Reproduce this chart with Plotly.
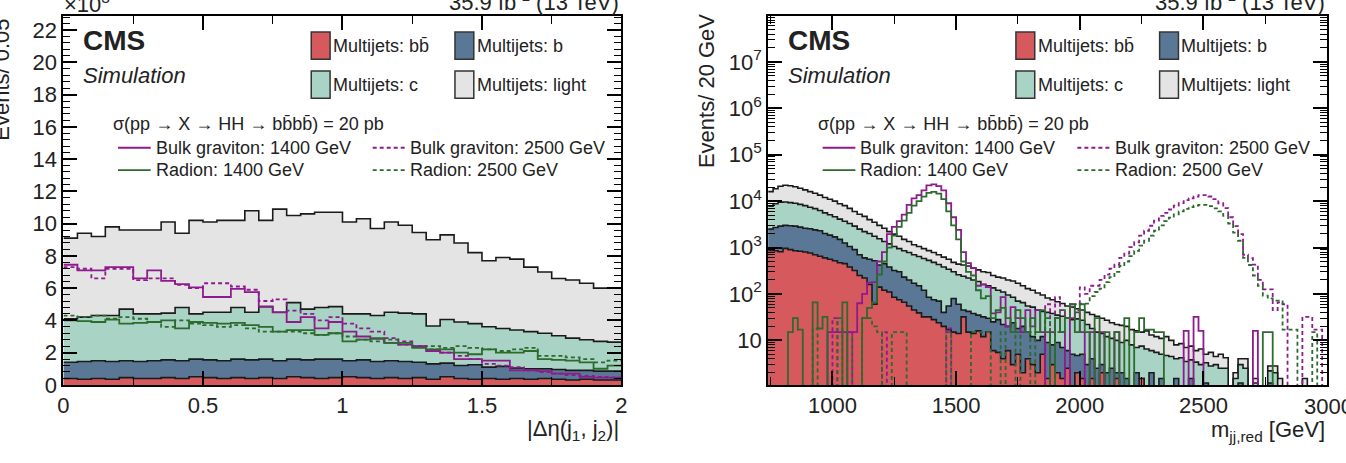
import numpy as np
import plotly.graph_objects as go

W, H = 1346, 463
FONT = "Liberation Sans, Arial, sans-serif"

# ---------------- left panel: |Delta eta(j1, j2)|, bins of 0.05, values in 10^3 events
deta_lo, deta_hi, deta_width = 0.0, 2.0, 0.05
# stack tops (cumulative: bb, bb+b, bb+b+c, total)
deta_stack_bb = [0.4, 0.35, 0.4, 0.35, 0.45, 0.4, 0.4, 0.45, 0.4, 0.5, 0.45, 0.4, 0.45, 0.4, 0.45, 0.4, 0.5, 0.45, 0.4, 0.45,
                 0.5, 0.45, 0.4, 0.45, 0.4, 0.45, 0.35, 0.5, 0.4, 0.35, 0.4, 0.35, 0.4, 0.35, 0.4, 0.35, 0.3, 0.35, 0.3, 0.3]
deta_stack_b = [1.4, 1.45, 1.5, 1.45, 1.5, 1.45, 1.5, 1.55, 1.5, 1.6, 1.55, 1.5, 1.6, 1.55, 1.6, 1.5, 1.6, 1.55, 1.6, 1.6,
                1.5, 1.55, 1.45, 1.5, 1.45, 1.4, 1.3, 1.35, 1.2, 1.25, 1.1, 1.15, 1.05, 1.0, 1.0, 0.95, 0.9, 0.9, 0.85, 0.85]
deta_stack_c = [4.1, 4.2, 4.3, 4.3, 4.7, 4.4, 4.4, 4.45, 4.8, 4.4, 4.5, 4.5, 4.8, 4.5, 4.85, 4.5, 5.1, 4.7, 4.8, 4.85,
                4.4, 4.4, 4.3, 4.5, 4.45, 4.4, 3.65, 4.05, 3.9, 3.8, 3.6, 3.5, 3.4, 3.3, 3.2, 3.05, 2.9, 2.8, 2.7, 2.65]
deta_stack_light = [9.1, 9.4, 9.2, 9.8, 9.6, 9.6, 9.6, 10.1, 9.4, 10.2, 10.1, 10.2, 10.2, 10.8, 10.2, 10.9, 10.5, 10.6, 10.7, 10.7,
                    10.1, 10.3, 9.7, 10.1, 9.9, 9.45, 9.0, 9.3, 8.8, 8.2, 7.7, 7.9, 7.8, 7.3, 7.0, 6.6, 6.5, 6.3, 6.0, 6.0]
deta_bulk1400 = [7.45, 7.1, 7.1, 7.3, 7.3, 6.6, 7.1, 6.45, 6.25, 6.05, 5.45, 5.45, 5.95, 5.75, 4.85, 4.5, 3.9, 4.2, 3.5, 3.9,
                 3.3, 3.0, 2.85, 2.6, 2.5, 2.4, 2.1, 2.0, 1.6, 1.6, 1.5, 1.5, 0.9, 0.9, 0.85, 0.7, 0.7, 0.5, 0.45, 0.45]
deta_bulk2500 = [7.3, 7.2, 6.6, 7.2, 7.2, 6.5, 6.6, 6.6, 6.2, 6.0, 6.3, 6.3, 6.1, 5.9, 5.2, 5.3, 4.6, 4.4, 4.0, 4.2,
                 3.8, 3.5, 3.3, 2.9, 2.7, 2.4, 2.2, 2.0, 1.8, 1.6, 1.3, 1.2, 1.1, 0.9, 0.8, 0.7, 0.6, 0.55, 0.5, 0.45]
deta_rad1400 = [4.0, 3.95, 3.9, 4.05, 3.8, 3.85, 3.9, 4.0, 3.5, 3.9, 3.85, 3.8, 3.85, 3.7, 3.6, 3.3, 3.4, 3.4, 3.1, 3.2,
                2.7, 2.8, 2.9, 2.6, 2.6, 2.3, 2.2, 2.2, 2.0, 1.9, 2.2, 2.0, 2.0, 2.1, 1.6, 1.55, 1.5, 1.4, 1.0, 1.2]
deta_rad2500 = [4.3, 4.2, 4.3, 4.1, 4.2, 4.1, 3.9, 3.6, 4.0, 3.8, 3.7, 3.6, 3.7, 3.5, 3.3, 3.3, 3.3, 3.2, 3.1, 3.2,
                3.0, 2.8, 2.7, 2.8, 2.5, 2.4, 2.4, 2.3, 2.4, 2.3, 2.2, 2.1, 2.2, 2.3, 1.8, 1.8, 1.7, 1.6, 1.4, 1.5]

# ---------------- right panel: m_jj,red, 20 GeV bins from 740 to 3000 GeV
mjj_lo, mjj_hi, mjj_width = 740, 3000, 20
mjj_stack_bb = [870, 850, 810, 960, 900, 850, 830, 800, 760, 700,
                650, 600, 560, 520, 470, 450, 380, 320, 250, 220,
                160, 60, 140, 120, 110, 85, 75, 66, 55, 45,
                39, 32, 32, 28, 24, 20, 17, 15, 14, 32,
                15, 14, 16, 12, 15, 6, 5.5, 4, 6, 3,
                5, 2, 4, 3, 2, 5, 1.5, 3, 2, 1.5,
                2.5, 0, 2, 1.5, 0, 1.5, 0, 2, 0, 0,
                1.5, 0, 0, 0, 0, 1.5, 0, 0, 0, 0,
                0, 0, 0, 0, 0, 0, 0, 0, 0, 0,
                0, 0, 0, 0, 0, 0, 0, 0, 0, 0,
                0, 0, 0, 0, 0, 0, 0, 0, 0, 0,
                0, 0, 0]
mjj_stack_b = [2500, 2700, 2900, 3000, 2950, 2900, 2750, 2600, 2550, 2400,
               2300, 2000, 1850, 1700, 1500, 1250, 1050, 900, 700, 600,
               560, 520, 420, 450, 380, 320, 300, 230, 200, 170,
               150, 120, 85, 75, 70, 40, 55, 80, 60, 45,
               42, 38, 35, 32, 30, 25, 28, 22, 20, 24,
               18, 20, 15, 12, 10, 12, 9, 8, 9, 7,
               6, 5, 4.7, 5, 3, 4, 2.5, 3, 2, 2.5,
               2, 2, 1.5, 0, 2, 1.5, 0, 2, 0, 1.5,
               0, 0, 1.5, 0, 0, 1.5, 0, 0, 1.2, 0,
               0, 0, 0, 0, 0, 1.2, 0, 0, 0, 0,
               0, 1.2, 0, 0, 0, 0, 0, 0, 0, 0,
               0, 0, 0]
mjj_stack_c = [7800, 8800, 9500, 9600, 9300, 9000, 8500, 8000, 7400, 6900,
               6300, 5600, 5100, 4600, 4100, 3700, 3300, 2900, 2500, 2200,
               2000, 1750, 1550, 1350, 1200, 1050, 950, 850, 780, 700,
               640, 580, 530, 480, 430, 380, 340, 300, 260, 240,
               220, 200, 185, 160, 150, 135, 120, 110, 95, 85,
               70, 65, 55, 52, 45, 42, 40, 38, 35, 33,
               30, 28, 29, 27, 22, 18, 15, 14, 12, 11,
               10, 9, 10, 8, 7, 7.5, 6.5, 6, 5.5, 5,
               4.7, 4.5, 4, 4.2, 3.5, 3.8, 3.4, 3, 3.3, 2.8,
               3, 2.5, 2.5, 0, 1.5, 3, 2.5, 0, 1.2, 0,
               0, 2.2, 2, 0, 0, 0, 0, 0, 0, 0,
               0, 0, 0]
mjj_stack_light = [16000, 18500, 21000, 22000, 21500, 20500, 19000, 17500, 16000, 14800,
                   13500, 12000, 11000, 10000, 8800, 8000, 7000, 6000, 5200, 4700,
                   4000, 3500, 3000, 2600, 2200, 1950, 1750, 1500, 1350, 1150,
                   1050, 950, 860, 780, 700, 620, 560, 480, 440, 420,
                   400, 360, 330, 300, 290, 250, 230, 220, 200, 190,
                   170, 150, 130, 120, 105, 95, 82, 75, 68, 62,
                   55, 52, 48, 45, 40, 36, 33, 30, 27, 24,
                   22, 21, 20, 17, 16, 15, 16, 13, 12, 11,
                   12, 10, 8, 8.5, 7, 7.5, 6, 6.5, 5, 5.5,
                   4.5, 5, 4.2, 0, 2, 4, 4, 0, 1.5, 0,
                   0, 2.8, 2.8, 1.5, 0, 0, 0, 0, 1.5, 0,
                   0, 0, 0]
mjj_bulk1400 = [0, 0, 0, 0, 0, 0, 0, 0, 0, 0,
                0, 0, 15, 15, 15, 15, 15, 15, 63, 100,
                175, 180, 500, 800, 1950, 2800, 3700, 5100, 8300, 11500,
                13500, 17000, 21800, 23000, 21000, 17000, 9000, 4500, 2400, 800,
                460, 360, 150, 160, 140, 38, 40, 85, 20, 52,
                30, 15, 45, 20, 45, 15, 0, 15, 30, 15,
                0, 30, 40, 15, 0, 15, 0, 15, 0, 0,
                15, 0, 0, 0, 0, 0, 0, 0, 0, 0,
                0, 0, 0, 0, 16, 0, 32, 16, 0, 0,
                0, 0, 0, 0, 0, 0, 0, 0, 16, 0,
                0, 0, 0, 0, 0, 0, 0, 0, 0, 0,
                0, 0, 0]
mjj_rad1400 = [0, 0, 0, 0, 15, 30, 17, 0, 0, 66,
               18, 32, 0, 0, 0, 66, 0, 0, 0, 30,
               50, 66, 260, 500, 1000, 1800, 2800, 3800, 5600, 8000,
               10000, 12500, 15000, 15800, 14500, 11000, 6000, 3000, 1500, 500,
               300, 250, 120, 80, 90, 30, 45, 50, 30, 15,
               45, 30, 15, 30, 15, 45, 15, 0, 30, 15,
               30, 60, 15, 60, 15, 0, 30, 0, 15, 0,
               15, 0, 30, 0, 15, 30, 17, 17, 15, 15,
               0, 0, 0, 0, 0, 0, 0, 0, 0, 0,
               0, 0, 0, 0, 0, 0, 0, 0, 0, 0,
               15, 15, 0, 0, 0, 0, 0, 0, 0, 0,
               0, 0, 0]
mjj_bulk2500 = [0, 0, 0, 0, 0, 0, 0, 0, 0, 0,
                0, 0, 0, 30, 0, 0, 15, 0, 0, 0,
                0, 0, 0, 15, 0, 0, 0, 0, 0, 0,
                0, 0, 0, 0, 0, 0, 18, 0, 0, 0,
                0, 0, 0, 0, 0, 0, 0, 0, 0, 0,
                0, 0, 0, 0, 0, 0, 60, 0, 85, 45,
                30, 52, 60, 138, 100, 150, 150, 200, 260, 350,
                430, 600, 740, 1020, 1300, 1800, 2300, 2950, 3800, 4800,
                5600, 6600, 8000, 9100, 10500, 11500, 12500, 13500, 13500, 12600,
                11000, 9000, 7100, 4500, 2900, 1950, 700, 590, 430, 200,
                126, 126, 45, 66, 60, 0, 0, 0, 32, 32,
                17, 17, 0]
mjj_rad2500 = [0, 0, 0, 0, 0, 0, 0, 0, 0, 18,
               0, 0, 0, 0, 30, 0, 15, 0, 0, 30,
               30, 20, 15, 0, 0, 15, 15, 15, 0, 0,
               0, 0, 0, 0, 0, 0, 15, 0, 0, 0,
               0, 15, 15, 15, 15, 0, 0, 15, 0, 0,
               15, 0, 0, 15, 0, 0, 30, 0, 15, 45,
               30, 60, 45, 62, 62, 90, 110, 130, 180, 230,
               300, 400, 500, 650, 850, 1100, 1400, 1800, 2300, 3000,
               3700, 4400, 5200, 6000, 6800, 7400, 8000, 8300, 8300, 7800,
               7000, 6000, 4800, 3300, 2100, 1400, 600, 420, 250, 150,
               92, 80, 72, 72, 17, 17, 17, 0, 0, 0,
               15, 0, 0]

deta_edges = np.round(np.arange(deta_lo, deta_hi + deta_width / 2, deta_width), 4)
mjj_edges = np.arange(mjj_lo, mjj_hi + mjj_width / 2, mjj_width)
for arr in [deta_stack_bb, deta_stack_b, deta_stack_c, deta_stack_light,
            deta_bulk1400, deta_bulk2500, deta_rad1400, deta_rad2500]:
    assert len(arr) == len(deta_edges) - 1, len(arr)
for arr in [mjj_stack_bb, mjj_stack_b, mjj_stack_c, mjj_stack_light,
            mjj_bulk1400, mjj_bulk2500, mjj_rad1400, mjj_rad2500]:
    assert len(arr) == len(mjj_edges) - 1, len(arr)

COL_BB = "#d6595d"
COL_B = "#5a7896"
COL_C = "#a9d3c4"
COL_L = "#e4e4e4"
COL_PUR = "#8e1a8e"
COL_GRN = "#2c6a2e"

fig = go.Figure()


def step(edges, vals, log=False):
    v = np.asarray(vals, dtype=float)
    if log:
        v = np.where(v > 0, v, 1e-3)
    return list(edges), list(v) + [v[-1]]


def add_panel(edges, stacks, signals, xa, ya, log):
    for vals, col in stacks:
        x, y = step(edges, vals, log)
        fig.add_trace(go.Scatter(x=x, y=y, mode="lines", line_shape="hv", fill="tozeroy",
                                 fillcolor=col, line=dict(color="#1a1a1a", width=1.6),
                                 xaxis=xa, yaxis=ya, showlegend=False, hoverinfo="skip"))
    for vals, col, dash in signals:
        x, y = step(edges, vals, log)
        fig.add_trace(go.Scatter(x=x, y=y, mode="lines", line_shape="hv",
                                 line=dict(color=col, width=1.8, dash=dash),
                                 xaxis=xa, yaxis=ya, showlegend=False, hoverinfo="skip"))


DASH = "4px,3px"
add_panel(deta_edges,
          [(deta_stack_light, COL_L), (deta_stack_c, COL_C), (deta_stack_b, COL_B), (deta_stack_bb, COL_BB)],
          [(deta_bulk2500, COL_PUR, DASH), (deta_rad2500, COL_GRN, DASH),
           (deta_bulk1400, COL_PUR, "solid"), (deta_rad1400, COL_GRN, "solid")],
          "x", "y", False)
add_panel(mjj_edges,
          [(mjj_stack_light, COL_L), (mjj_stack_c, COL_C), (mjj_stack_b, COL_B), (mjj_stack_bb, COL_BB)],
          [(mjj_bulk2500, COL_PUR, DASH), (mjj_rad2500, COL_GRN, DASH),
           (mjj_bulk1400, COL_PUR, "solid"), (mjj_rad1400, COL_GRN, "solid")],
          "x2", "y2", True)

L0, L1 = 58, 621
R0, R1 = 769, 1333
TOP, BOT = 16, 396


def px(x):
    return x / W


def py(y):
    return 1 - y / H


axis_common = dict(showline=True, linecolor="black", linewidth=2, mirror="ticks", ticks="inside",
                   ticklen=14, tickwidth=1.5, tickcolor="black", showgrid=False, zeroline=False,
                   tickfont=dict(size=22, color="#222", family=FONT))
minor_common = dict(ticks="inside", tickcolor="black", tickwidth=1.2, showgrid=False)

log_minor = [m * 10 ** k for k in range(0, 8) for m in range(2, 10)]
fig.update_layout(
    width=W, height=H, margin=dict(l=0, r=0, t=0, b=0),
    paper_bgcolor="white", plot_bgcolor="white",
    font=dict(family=FONT, color="#222"),
    xaxis=dict(domain=[px(L0), px(L1)], range=[deta_lo, deta_hi], anchor="y", tick0=0, dtick=0.5,
               minor=dict(dtick=0.25, ticklen=8, **minor_common), **axis_common),
    yaxis=dict(domain=[py(BOT), py(TOP)], range=[0, 22.9], anchor="x", tick0=0, dtick=2,
               minor=dict(dtick=0.4, ticklen=7, **minor_common), **axis_common),
    xaxis2=dict(domain=[px(R0), px(R1)], range=[mjj_lo, mjj_hi], anchor="y2", tick0=0, dtick=500,
                minor=dict(dtick=250, ticklen=8, **minor_common), **axis_common),
    yaxis2=dict(domain=[py(BOT), py(TOP)], type="log", range=[0.04, 8.0], anchor="x2",
                tickmode="array", tickvals=[10 ** k for k in range(1, 8)],
                ticktext=["10"] + ["10<sup>%d</sup>" % k for k in range(2, 8)],
                minor=dict(tickmode="array", tickvals=log_minor, ticklen=7, **minor_common),
                **axis_common),
)

ann = []
shapes = []


def text(x, y, s, size=18, xanchor="left", yanchor="middle", angle=0, color="#222"):
    ann.append(dict(x=px(x), y=py(y), xref="paper", yref="paper", text=s, showarrow=False,
                    xanchor=xanchor, yanchor=yanchor, textangle=angle,
                    font=dict(size=size, family=FONT, color=color)))


BBAR = "b\u0304"
for dx, right in [(0, L1), (R0 - L0, R1)]:
    text(76 + dx, 42, "<b>CMS</b>", size=28)
    text(76 + dx, 78, "<i>Simulation</i>", size=22)
    boxes = [(308, 33, COL_BB, "Multijets: b" + BBAR), (453, 33, COL_B, "Multijets: b"),
             (308, 73, COL_C, "Multijets: c"), (453, 73, COL_L, "Multijets: light")]
    for bx, by, col, lab in boxes:
        shapes.append(dict(type="rect", xref="paper", yref="paper",
                           x0=px(bx + dx), x1=px(bx + dx + 19), y0=py(by + 28), y1=py(by),
                           fillcolor=col, line=dict(color="#333", width=1.5)))
        text(bx + dx + 20, by + 14, lab, size=18)
    text(106 + dx, 128, "\u03c3(pp \u2192 X \u2192 HH \u2192 b" + BBAR + "b" + BBAR + ") = 20 pb", size=18)
    lines = [(113, 152, COL_PUR, "solid", "Bulk graviton: 1400 GeV"),
             (370, 152, COL_PUR, "dash", "Bulk graviton: 2500 GeV"),
             (113, 175, COL_GRN, "solid", "Radion: 1400 GeV"),
             (370, 175, COL_GRN, "dash", "Radion: 2500 GeV")]
    for lx, ly, col, dash, lab in lines:
        shapes.append(dict(type="line", xref="paper", yref="paper",
                           x0=px(lx + dx), x1=px(lx + dx + 33), y0=py(ly), y1=py(ly),
                           line=dict(color=col, width=1.8, dash=DASH if dash == "dash" else "solid")))
        text(lx + dx + 36, ly, lab, size=18)
    text(right, 1, "35.9 fb<sup>-1</sup> (13 TeV)", size=22, xanchor="right")

text(L0 - 2, 3, "\u00d710<sup>3</sup>", size=22)
text(L1, 442, "|\u0394\u03b7(j<sub>1</sub>, j<sub>2</sub>)|", size=22, xanchor="right")
text(R1, 443, "m<sub>jj,red</sub> [GeV]", size=22, xanchor="right")
text(-4, 82, "Events/ 0.05", size=22, xanchor="center", angle=-90)
text(707, 94, "Events/ 20 GeV", size=22, xanchor="center", angle=-90)
# last x tick label of the right panel, at the page edge as in the original
text(1334, 418, "3000", size=22, xanchor="center")

fig.update_layout(annotations=ann, shapes=shapes)
fig.write_html("out.html")
